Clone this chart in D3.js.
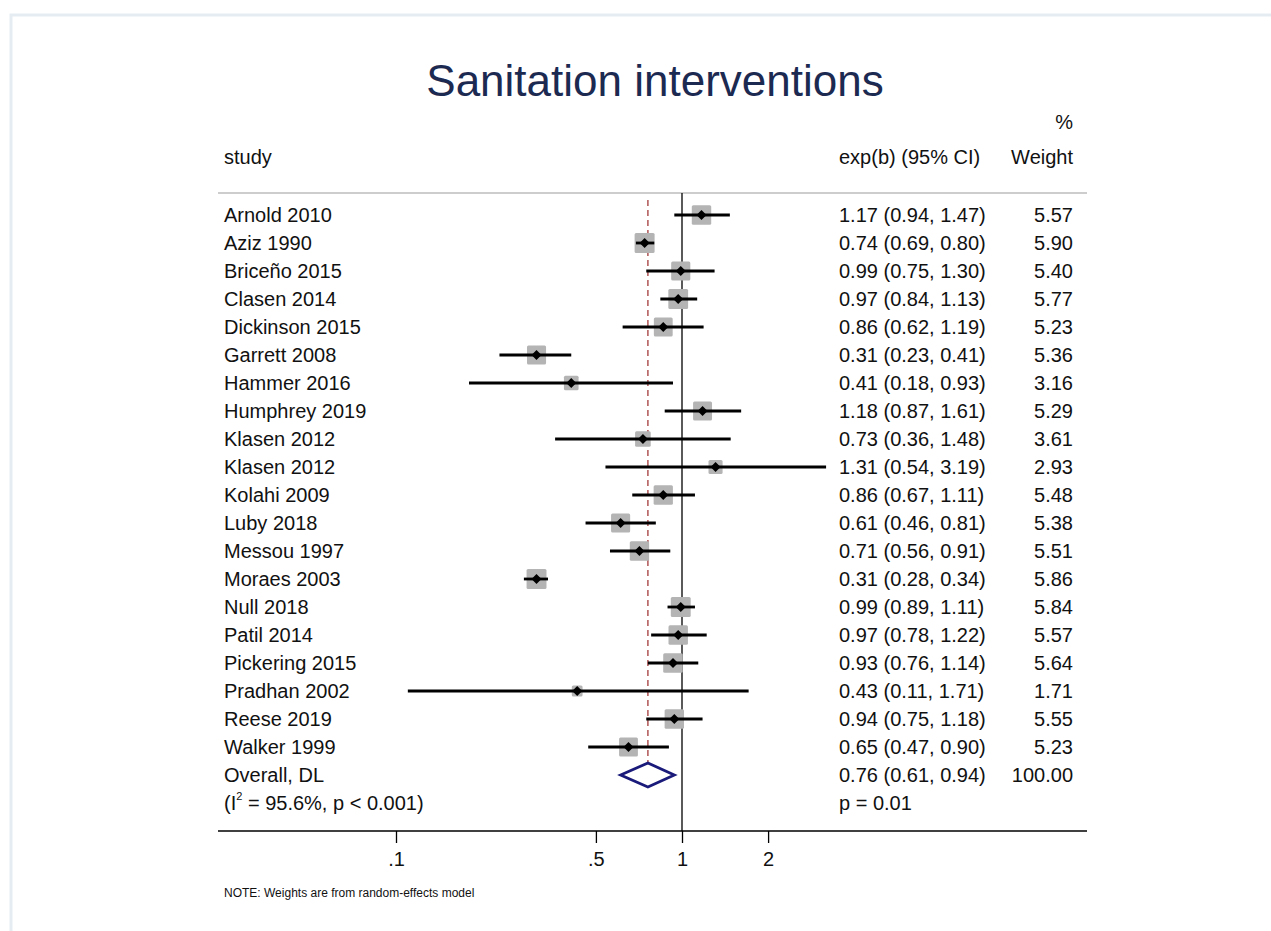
<!DOCTYPE html>
<html>
<head>
<meta charset="utf-8">
<style>
  body { margin: 0; background: #fff; }
  svg { display: block; font-family: "Liberation Sans", Arial, sans-serif; }
</style>
</head>
<body>
<svg width="1271" height="931"></svg>
<script src="https://d3js.org/d3.v7.min.js"></script>
<script>

var studies = ["Arnold 2010", "Aziz 1990", "Briceño 2015", "Clasen 2014", "Dickinson 2015",
  "Garrett 2008", "Hammer 2016", "Humphrey 2019", "Klasen 2012", "Klasen 2012",
  "Kolahi 2009", "Luby 2018", "Messou 1997", "Moraes 2003", "Null 2018",
  "Patil 2014", "Pickering 2015", "Pradhan 2002", "Reese 2019", "Walker 1999"];
var est = [1.17, 0.74, 0.99, 0.97, 0.86, 0.31, 0.41, 1.18, 0.73, 1.31,
  0.86, 0.61, 0.71, 0.31, 0.99, 0.97, 0.93, 0.43, 0.94, 0.65];
var lo = [0.94, 0.69, 0.75, 0.84, 0.62, 0.23, 0.18, 0.87, 0.36, 0.54,
  0.67, 0.46, 0.56, 0.28, 0.89, 0.78, 0.76, 0.11, 0.75, 0.47];
var hi = [1.47, 0.80, 1.30, 1.13, 1.19, 0.41, 0.93, 1.61, 1.48, 3.19,
  1.11, 0.81, 0.91, 0.34, 1.11, 1.22, 1.14, 1.71, 1.18, 0.90];
var weights = [5.57, 5.90, 5.40, 5.77, 5.23, 5.36, 3.16, 5.29, 3.61, 2.93,
  5.48, 5.38, 5.51, 5.86, 5.84, 5.57, 5.64, 1.71, 5.55, 5.23];
var overall = {est: 0.76, lo: 0.61, hi: 0.94, weight: 100.00, p: "0.01"};
var heterogeneity = {i2: "95.6%", p: "p < 0.001"};
var xTicks = [0.1, 0.5, 1, 2];
var xTickLabels = [".1", ".5", "1", "2"];

var svg = d3.select("svg");
var textColor = "#111";
var fs = 20;

// outer frame
svg.append("rect")
    .attr("x", 11).attr("y", 15)
    .attr("width", 1400).attr("height", 1000)
    .attr("fill", "none")
    .attr("stroke", "#e6edf2")
    .attr("stroke-width", 3);

svg.append("text")
    .attr("x", 655).attr("y", 96)
    .attr("text-anchor", "middle")
    .attr("font-size", 44)
    .attr("fill", "#1c2a52")
    .text("Sanitation interventions");

// log scale positions: 1 at 682, about 285.7px per decade
var x = d3.scaleLog().domain([0.1, 1]).range([396, 682]);
var rowY = d3.scaleLinear().domain([0, 1]).range([215, 243]);

var left = 218, right = 1087, headLine = 193, axisY = 831;
var colCI = 839, colW = 1073;

// headers
svg.append("text").attr("x", 224).attr("y", 164).attr("font-size", fs).attr("fill", textColor).text("study");
svg.append("text").attr("x", colCI).attr("y", 164).attr("font-size", fs).attr("fill", textColor).text("exp(b) (95% CI)");
svg.append("text").attr("x", colW).attr("y", 164).attr("text-anchor", "end").attr("font-size", fs).attr("fill", textColor).text("Weight");
svg.append("text").attr("x", colW).attr("y", 129).attr("text-anchor", "end").attr("font-size", fs).attr("fill", textColor).text("%");

svg.append("line")
    .attr("x1", left).attr("x2", right)
    .attr("y1", headLine).attr("y2", headLine)
    .attr("stroke", "#bdbdbd").attr("stroke-width", 1.5);

// no-effect line
svg.append("line")
    .attr("x1", x(1)).attr("x2", x(1))
    .attr("y1", headLine).attr("y2", axisY)
    .attr("stroke", "#000").attr("stroke-width", 1.3);

// overall effect line
svg.append("line")
    .attr("x1", x(overall.est)).attr("x2", x(overall.est))
    .attr("y1", 200).attr("y2", rowY(20) + 13)
    .attr("stroke", "#9b2a2a").attr("stroke-width", 1.2)
    .attr("stroke-dasharray", "6,4");

var rows = studies.map(function(s, i) {
  return {name: s, est: est[i], lo: lo[i], hi: hi[i], w: weights[i], i: i};
});

var g = svg.append("g");
var maxW = d3.max(weights);

g.selectAll("rect.box")
  .data(rows).enter().append("rect")
    .attr("class", "box")
    .attr("x", function(d) { return x(d.est) - 10 * Math.sqrt(d.w / maxW); })
    .attr("y", function(d) { return rowY(d.i) - 10 * Math.sqrt(d.w / maxW); })
    .attr("width", function(d) { return 20 * Math.sqrt(d.w / maxW); })
    .attr("height", function(d) { return 20 * Math.sqrt(d.w / maxW); })
    .attr("rx", 1.5)
    .attr("fill", "#b4b4b4");

g.selectAll("line.ci")
  .data(rows).enter().append("line")
    .attr("class", "ci")
    .attr("x1", function(d) { return x(d.lo); })
    .attr("x2", function(d) { return x(d.hi); })
    .attr("y1", function(d) { return rowY(d.i); })
    .attr("y2", function(d) { return rowY(d.i); })
    .attr("stroke", "#000").attr("stroke-width", 2.8);

g.selectAll("path.pt")
  .data(rows).enter().append("path")
    .attr("class", "pt")
    .attr("d", function(d) {
      var cx = x(d.est), cy = rowY(d.i);
      return "M" + (cx - 5) + "," + cy + "L" + cx + "," + (cy - 5) + "L" + (cx + 5) + "," + cy + "L" + cx + "," + (cy + 5) + "Z";
    })
    .attr("fill", "#000");

// labels
var fmt = d3.format(".2f");
g.selectAll("text.name")
  .data(rows).enter().append("text")
    .attr("x", 224).attr("y", function(d) { return rowY(d.i) + 7; })
    .attr("font-size", fs).attr("fill", textColor)
    .text(function(d) { return d.name; });

g.selectAll("text.ci")
  .data(rows).enter().append("text")
    .attr("x", colCI).attr("y", function(d) { return rowY(d.i) + 7; })
    .attr("font-size", fs).attr("fill", textColor)
    .text(function(d) { return fmt(d.est) + " (" + fmt(d.lo) + ", " + fmt(d.hi) + ")"; });

g.selectAll("text.w")
  .data(rows).enter().append("text")
    .attr("x", colW).attr("y", function(d) { return rowY(d.i) + 7; })
    .attr("text-anchor", "end")
    .attr("font-size", fs).attr("fill", textColor)
    .text(function(d) { return fmt(d.w); });

// overall
var oy = rowY(20);
svg.append("path")
    .attr("d", "M" + x(overall.lo) + "," + oy + "L" + x(overall.est) + "," + (oy - 12) +
      "L" + x(overall.hi) + "," + oy + "L" + x(overall.est) + "," + (oy + 12) + "Z")
    .attr("fill", "#fff").attr("stroke", "#1a1a7a").attr("stroke-width", 2.8);

svg.append("text").attr("x", 224).attr("y", oy + 7).attr("font-size", fs).attr("fill", textColor).text("Overall, DL");
svg.append("text").attr("x", colCI).attr("y", oy + 7).attr("font-size", fs).attr("fill", textColor)
    .text(fmt(overall.est) + " (" + fmt(overall.lo) + ", " + fmt(overall.hi) + ")");
svg.append("text").attr("x", colW).attr("y", oy + 7).attr("text-anchor", "end").attr("font-size", fs).attr("fill", textColor)
    .text(fmt(overall.weight));

var hy = rowY(21);
var het = svg.append("text").attr("x", 224).attr("y", hy + 7).attr("font-size", fs).attr("fill", textColor);
het.append("tspan").text("(I");
het.append("tspan").attr("dy", -10).attr("font-size", 11).text("2");
het.append("tspan").attr("dy", 10).text(" = " + heterogeneity.i2 + ", " + heterogeneity.p + ")");
svg.append("text").attr("x", colCI).attr("y", hy + 7).attr("font-size", fs).attr("fill", textColor)
    .text("p = " + overall.p);

// axis
svg.append("line")
    .attr("x1", left).attr("x2", right)
    .attr("y1", axisY).attr("y2", axisY)
    .attr("stroke", "#000").attr("stroke-width", 1.3);

var axis = svg.append("g")
    .attr("transform", "translate(0," + axisY + ")")
    .call(d3.axisBottom(x).tickValues(xTicks).tickSize(12).tickPadding(9)
      .tickFormat(function(d, i) { return xTickLabels[i]; }));
axis.select(".domain").remove();
axis.selectAll(".tick line").attr("stroke", "#000").attr("stroke-width", 1.3);
axis.selectAll(".tick text")
    .attr("font-size", fs).attr("fill", textColor)
    .attr("font-family", "\"Liberation Sans\", Arial, sans-serif");

svg.append("text")
    .attr("x", 224).attr("y", 897)
    .attr("font-size", 12).attr("fill", textColor)
    .text("NOTE: Weights are from random-effects model");

</script>
</body>
</html>
